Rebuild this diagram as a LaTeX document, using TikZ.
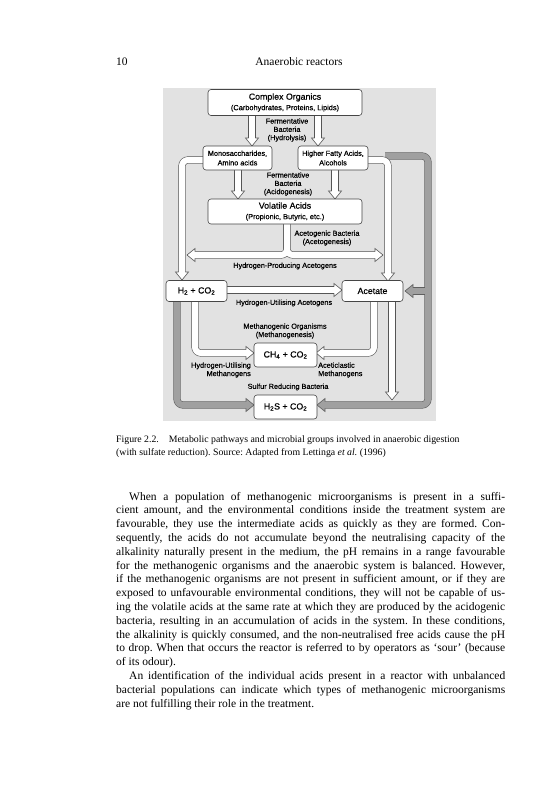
\documentclass[tikz,border=0pt]{standalone}
\usepackage{fontspec}
\setmainfont{Liberation Serif}
\newfontfamily\figsans[FakeBold=0.5]{Liberation Sans}
\usetikzlibrary{calc}

\definecolor{figbg}{RGB}{226,226,226}
\definecolor{boxedge}{RGB}{70,70,70}
\definecolor{pipeedge}{RGB}{85,85,85}
\definecolor{graypipe}{RGB}{160,160,160}
\definecolor{graypipeedge}{RGB}{95,95,95}

\newcommand\whead[2]{\begin{scope}[shift={#1},rotate=#2]
  \filldraw[fill=white,draw=pipeedge,line width=0.6pt,line join=miter] (-8,3.3)--(-8,6.5)--(0,0)--(-8,-6.5)--(-8,-3.3);
\end{scope}}
\newcommand\ghead[2]{\begin{scope}[shift={#1},rotate=#2]
  \filldraw[fill=graypipe,draw=graypipeedge,line width=0.6pt,line join=miter] (-8,3.3)--(-8,6.5)--(0,0)--(-8,-6.5)--(-8,-3.3);
\end{scope}}
\newcommand\jl[1]{\hbox to 389pt{#1}}
\newcommand\lastln[1]{\hbox{#1}}
\frenchspacing

\begin{document}
\begin{tikzpicture}[x=1pt,y=-1pt,
  box/.style={draw=boxedge, fill=white, rounded corners=3pt, line width=0.6pt, inner sep=0pt, align=center, font=\figsans\fontsize{8.8}{10.5}\selectfont},
  sbox/.style={box, font=\figsans\fontsize{7.3}{9.5}\selectfont},
  lbl/.style={inner sep=0pt, align=center, font=\figsans\fontsize{7.3}{8.3}\selectfont},
  wedge/.style={line width=7.2pt, draw=pipeedge, rounded corners=6pt},
  wfill/.style={line width=6pt, draw=white, rounded corners=6pt},
  gedge/.style={line width=7.2pt, draw=graypipeedge, rounded corners=6pt},
  gfill/.style={line width=6pt, draw=graypipe, rounded corners=6pt},
  txt/.style={inner sep=0pt, font=\fontsize{11.5}{13.8}\selectfont}
]
\useasboundingbox (0,0) rectangle (552,800);
\fill[white] (0,0) rectangle (552,800);

% header
\node[txt, anchor=base west] (pageno) at (116,66) {10};
\node[txt, anchor=base] (runhead) at (299,66) {Anaerobic reactors};

% figure background
\fill[figbg] (163,88) rectangle (436,421);

% named coordinates for pipe waypoints
\coordinate (g1s) at (385,156);
\coordinate (g1a) at (428,156);
\coordinate (g1b) at (428,405);
\coordinate (g1e) at (325,405);
\coordinate (g2s) at (428,291);
\coordinate (g2e) at (413,291);
\coordinate (g3s) at (177,301);
\coordinate (g3a) at (177,405);
\coordinate (g3e) at (246,405);

% gray pipes
\draw[gedge] (g1s) -- (g1a) -- (g1b) -- (g1e);
\draw[gedge] (g2s) -- (g2e);
\draw[gedge] (g3s) -- (g3a) -- (g3e);
\draw[gfill] (g1s) -- (g1a) -- (g1b) -- (g1e);
\draw[gfill] (g2s) -- (g2e);
\draw[gfill] (g3s) -- (g3a) -- (g3e);
\ghead{(317,405)}{180}
\ghead{(405,291)}{180}
\ghead{(254,405)}{0}

% white pipes
\foreach \s in {wedge,wfill}{
  \draw[\s] (252,116) -- (252,138);
  \draw[\s] (318,116) -- (318,138);
  \draw[\s] (238,170) -- (238,191);
  \draw[\s] (335,170) -- (335,191);
  \draw[\s] (205,160) -- (182,160) -- (182,272);
  \draw[\s] (366,160) -- (388,160) -- (388,273);
  \draw[\s] (287,222) -- (287,255) -- (195,255);
  \draw[\s] (287,222) -- (287,255) -- (375,255);
  \draw[\s] (226,290) -- (334,290);
  \draw[\s] (195,301) -- (195,353) -- (246,353);
  \draw[\s] (374,301) -- (374,353) -- (324,353);
  \draw[\s] (392,301) -- (392,392);
}
\whead{(252,146)}{-90}
\whead{(318,146)}{-90}
\whead{(238,199)}{-90}
\whead{(335,199)}{-90}
\whead{(182,280)}{-90}
\whead{(388,281)}{-90}
\whead{(187,255)}{180}
\whead{(383,255)}{0}
\whead{(342,290)}{0}
\whead{(254,353)}{0}
\whead{(316,353)}{180}
\whead{(392,400)}{-90}

% boxes
\node[box, minimum width=154pt, minimum height=26pt] (complex) at (285,102.5)
  {Complex Organics\\{\fontsize{7.4}{8}\selectfont(Carbohydrates, Proteins, Lipids)}};
\node[sbox, minimum width=69pt, minimum height=24pt] (mono) at (237.5,158) {Monosaccharides,\\Amino acids};
\node[sbox, minimum width=70pt, minimum height=24pt] (hfa) at (333,158) {Higher Fatty Acids,\\Alcohols};
\node[box, minimum width=154pt, minimum height=25pt] (vfa) at (285,211.5)
  {Volatile Acids\\{\fontsize{7.4}{8}\selectfont(Propionic, Butyric, etc.)}};
\node[box, minimum width=61pt, minimum height=21pt] (h2) at (196.5,291) {H\textsubscript{2} + CO\textsubscript{2}};
\node[box, minimum width=61pt, minimum height=21pt] (acet) at (372.5,291) {Acetate};
\node[box, minimum width=63pt, minimum height=24pt] (ch4) at (285.5,355) {CH\textsubscript{4} + CO\textsubscript{2}};
\node[box, minimum width=63pt, minimum height=24pt] (h2s) at (285.5,407) {H\textsubscript{2}S + CO\textsubscript{2}};

% labels
\node[lbl] (lhydro) at (287,130) {Fermentative\\Bacteria\\(Hydrolysis)};
\node[lbl] (lacido) at (288,184) {Fermentative\\Bacteria\\(Acidogenesis)};
\node[lbl] (lacetog) at (327,238) {Acetogenic Bacteria\\(Acetogenesis)};
\node[lbl] (lhpa) at (285,266) {Hydrogen-Producing Acetogens};
\node[lbl] (lhua) at (284,303) {Hydrogen-Utilising Acetogens};
\node[lbl] (lmeth) at (285,331) {Methanogenic Organisms\\(Methanogenesis)};
\node[lbl, align=right, anchor=east] (lhum) at (251,370) {Hydrogen-Utilising\\Methanogens};
\node[lbl, align=left, anchor=west] (lacm) at (318,370) {Aceticlastic\\Methanogens};
\node[lbl] (lsrb) at (288,387) {Sulfur Reducing Bacteria};

% caption
\node[inner sep=0pt, anchor=base west, font=\fontsize{9.8}{13}\selectfont] (caption) at (116,442.5)
  {\vtop{\baselineskip=13pt\relax
   \hbox{Figure 2.2.\hspace{10pt}Metabolic pathways and microbial groups involved in anaerobic digestion}
   \hbox{(with sulfate reduction). Source: Adapted from Lettinga \textit{et al.} (1996)}}};

% body text
\node[txt, anchor=base west] (body) at (116,500)
  {\vtop{\baselineskip=13.8pt\relax
  \jl{\kern13pt When a population of methanogenic microorganisms is present in a suffi-}
  \jl{cient amount, and the environmental conditions inside the treatment system are}
  \jl{favourable, they use the intermediate acids as quickly as they are formed. Con-}
  \jl{sequently, the acids do not accumulate beyond the neutralising capacity of the}
  \jl{alkalinity naturally present in the medium, the pH remains in a range favourable}
  \jl{for the methanogenic organisms and the anaerobic system is balanced. However,}
  \jl{if the methanogenic organisms are not present in sufficient amount, or if they are}
  \jl{exposed to unfavourable environmental conditions, they will not be capable of us-}
  \jl{ing the volatile acids at the same rate at which they are produced by the acidogenic}
  \jl{bacteria, resulting in an accumulation of acids in the system. In these conditions,}
  \jl{the alkalinity is quickly consumed, and the non-neutralised free acids cause the pH}
  \jl{to drop. When that occurs the reactor is referred to by operators as ‘sour’ (because}
  \lastln{of its odour).}
  \jl{\kern13pt An identification of the individual acids present in a reactor with unbalanced}
  \jl{bacterial populations can indicate which types of methanogenic microorganisms}
  \lastln{are not fulfilling their role in the treatment.}
  }};
\end{tikzpicture}
\end{document}
